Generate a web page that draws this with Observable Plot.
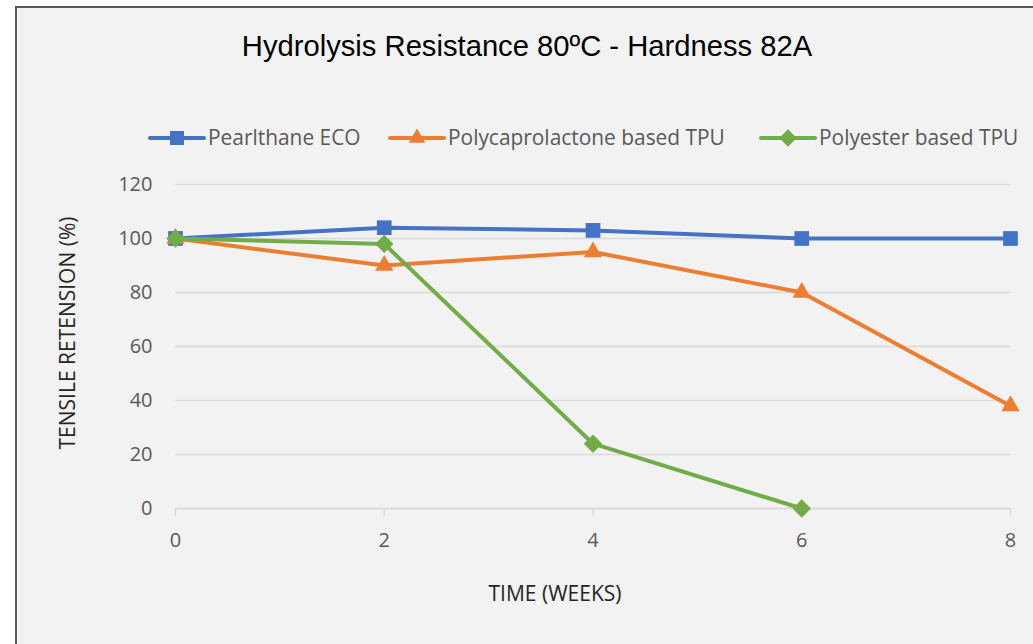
<!DOCTYPE html>
<html>
<head>
<meta charset="utf-8">
<script src="https://cdn.jsdelivr.net/npm/d3@7"></script>
<script src="https://cdn.jsdelivr.net/npm/@observablehq/plot@0.6"></script>
<style>
  html, body { margin: 0; padding: 0; background: #ffffff; overflow: hidden; width: 1033px; height: 644px; }
  #frame { position: absolute; left: 15px; top: 6px; width: 1100px; height: 700px; background: #f2f2f2; border: 2px solid #595959; box-sizing: border-box; }
  #chart { position: absolute; left: 0; top: 0; }
  #overlay { position: absolute; left: 0; top: 0; }
</style>
</head>
<body>
<div id="frame"></div>
<div id="chart"></div>
<svg id="overlay" width="1033" height="644"></svg>
<script>
// ---- data ----
const title = "Hydrolysis Resistance 80ºC - Hardness 82A";
const xTitle = "TIME (WEEKS)";
const yTitle = "TENSILE RETENSION (%)";
const seriesNames = ["Pearlthane ECO", "Polycaprolactone based TPU", "Polyester based TPU"];
const seriesColors = ["#4472C4", "#ED7D31", "#70AD47"];
const weeks = [0, 2, 4, 6, 8];
const pearlthane = [100, 104, 103, 100, 100];
const polycaprolactone = [100, 90, 95, 80, 38];
const polyesterWeeks = [0, 2, 4, 6];
const polyester = [100, 98, 24, 0];
const xTicks = [0, 2, 4, 6, 8];
const yTicks = [0, 20, 40, 60, 80, 100, 120];

const pearlData = weeks.map((w, i) => ({week: w, value: pearlthane[i]}));
const pclData = weeks.map((w, i) => ({week: w, value: polycaprolactone[i]}));
const pesData = polyesterWeeks.map((w, i) => ({week: w, value: polyester[i]}));

const lineOpts = (c) => ({x: "week", y: "value", stroke: c, strokeWidth: 4, strokeLinejoin: "round", strokeLinecap: "round"});

const chart = Plot.plot({
  width: 1033,
  height: 644,
  marginLeft: 175,
  marginRight: 23,
  marginTop: 184,
  marginBottom: 136,
  style: {background: "transparent", fontFamily: "Open Sans", fontSize: "20px", color: "#595959", overflow: "visible"},
  x: {domain: [0, 8], label: null},
  y: {domain: [0, 120], label: null},
  marks: [
    Plot.gridY(yTicks, {stroke: "#d9d9d9", strokeOpacity: 1, strokeWidth: 1.5}),
    Plot.axisY(yTicks, {tickSize: 0, tickPadding: 23, fill: "#595959", fontSize: 20, label: null}),
    Plot.axisX(xTicks, {tickSize: 8, tickPadding: 16, stroke: "#d9d9d9", strokeOpacity: 1, strokeWidth: 1.5, fill: "#595959", fontSize: 20, label: null}),
    Plot.ruleY([0], {stroke: "#d9d9d9", strokeWidth: 1.5}),
    Plot.line(pearlData, lineOpts(seriesColors[0])),
    Plot.dot(pearlData, {x: "week", y: "value", symbol: "square", r: 8.3, fill: seriesColors[0], stroke: null}),
    Plot.line(pclData, lineOpts(seriesColors[1])),
    Plot.dot(pclData, {x: "week", y: "value", symbol: "triangle", r: 6.8, fill: seriesColors[1], stroke: null}),
    Plot.line(pesData, lineOpts(seriesColors[2])),
    Plot.dot(pesData, {x: "week", y: "value", symbol: "diamond2", r: 8.3, fill: seriesColors[2], stroke: null})
  ]
});
document.getElementById("chart").appendChild(chart);

// ---- title, legend, axis titles ----
const ov = d3.select("#overlay");
ov.append("text").attr("x", 527).attr("y", 56).attr("text-anchor", "middle")
  .attr("font-family", "Liberation Sans, Arial, sans-serif").attr("font-size", 29.2).attr("fill", "#000")
  .text(title);

const legendItems = [
  {x0: 150, x1: 204, tx: 208, sym: d3.symbolSquare, size: 196},
  {x0: 390, x1: 444, tx: 448, sym: d3.symbolTriangle, size: 120},
  {x0: 761, x1: 815, tx: 819, sym: d3.symbolDiamond2, size: 190}
];
const ly = 138;
legendItems.forEach((it, i) => {
  const g = ov.append("g");
  g.append("line").attr("x1", it.x0).attr("x2", it.x1).attr("y1", ly).attr("y2", ly)
    .attr("stroke", seriesColors[i]).attr("stroke-width", 4).attr("stroke-linecap", "round");
  g.append("path").attr("d", d3.symbol(it.sym, it.size)())
    .attr("transform", `translate(${(it.x0 + it.x1) / 2},${ly})`).attr("fill", seriesColors[i]);
  g.append("text").attr("x", it.tx).attr("y", 145).attr("font-family", "Open Sans").attr("font-size", 20.9)
    .attr("fill", "#595959").text(seriesNames[i]);
});

ov.append("text").attr("x", 555).attr("y", 601).attr("text-anchor", "middle")
  .attr("font-family", "Open Sans").attr("font-size", 21).attr("fill", "#262626").text(xTitle);
ov.append("text").attr("transform", "translate(75,333) rotate(-90)").attr("text-anchor", "middle")
  .attr("font-family", "Open Sans").attr("font-size", 21).attr("fill", "#262626").text(yTitle);
</script>
</body>
</html>
